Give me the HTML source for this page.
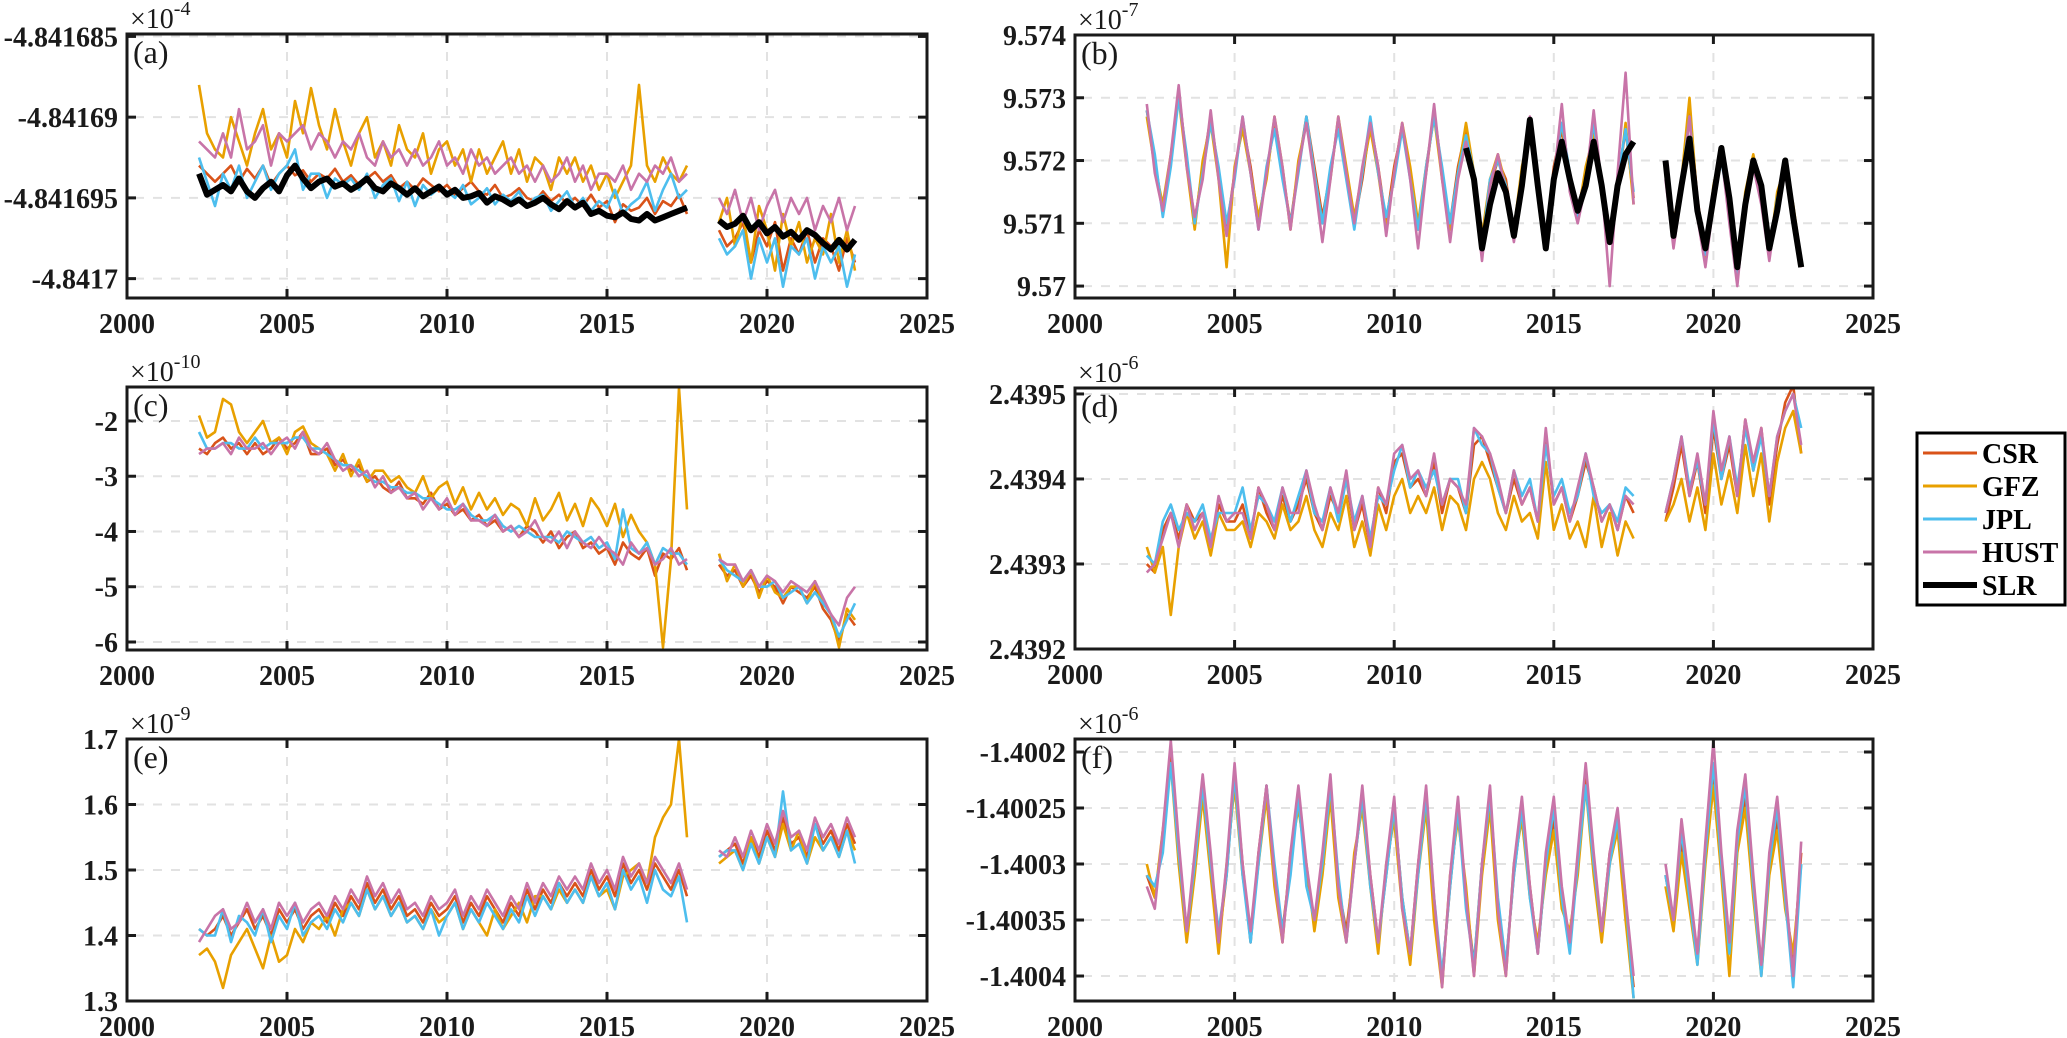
<!DOCTYPE html>
<html><head><meta charset="utf-8">
<style>
html,body{margin:0;padding:0;background:#fff;}
svg{display:block;}
text{font-family:"Liberation Serif",serif;}
</style></head>
<body>
<svg id="fig" width="2067" height="1038" viewBox="0 0 2067 1038" xmlns="http://www.w3.org/2000/svg">
<g id="legend">
<rect x="1917" y="433" width="148" height="172" fill="#fff" stroke="#000" stroke-width="3"/>
<g><line x1="1923" y1="453" x2="1977" y2="453" stroke="#D95319" stroke-width="3"/><text x="1982" y="463" font-size="28" font-weight="bold">CSR</text></g>
<g><line x1="1923" y1="486" x2="1977" y2="486" stroke="#E8A000" stroke-width="3"/><text x="1982" y="496" font-size="28" font-weight="bold">GFZ</text></g>
<g><line x1="1923" y1="519" x2="1977" y2="519" stroke="#4DBEEE" stroke-width="3"/><text x="1982" y="529" font-size="28" font-weight="bold">JPL</text></g>
<g><line x1="1923" y1="552" x2="1977" y2="552" stroke="#C874A8" stroke-width="3"/><text x="1982" y="562" font-size="28" font-weight="bold">HUST</text></g>
<g><line x1="1923" y1="585" x2="1977" y2="585" stroke="#000" stroke-width="6"/><text x="1982" y="595" font-size="28" font-weight="bold">SLR</text></g>
</g>
</svg>
<script>
const TIME=[2002.25,2002.5,2002.75,
2003,2003.25,2003.5,2003.75,2004,2004.25,2004.5,2004.75,2005,2005.25,2005.5,2005.75,
2006,2006.25,2006.5,2006.75,2007,2007.25,2007.5,2007.75,2008,2008.25,2008.5,2008.75,
2009,2009.25,2009.5,2009.75,2010,2010.25,2010.5,2010.75,2011,2011.25,2011.5,2011.75,
2012,2012.25,2012.5,2012.75,2013,2013.25,2013.5,2013.75,2014,2014.25,2014.5,2014.75,
2015,2015.25,2015.5,2015.75,2016,2016.25,2016.5,2016.75,2017,2017.25,2017.5,
null,
2018.5,2018.75,2019,2019.25,2019.5,2019.75,2020,2020.25,2020.5,2020.75,
2021,2021.25,2021.5,2021.75,2022,2022.25,2022.5,2022.75];
const X_TICKS=[2000,2005,2010,2015,2020,2025];

// Panel (a): values in units of 1e-10 relative to -4.84169e-4
const A_YTICKS=[5,0,-5,-10];
const A_YLABELS=['-4.841685','-4.84169','-4.841695','-4.8417'];
const A_CSR=[-3,-3.5,-4,-3.5,-3,-4,-3.2,-3.8,-3,-4.2,-3.5,-3,-3.6,-3.3,-4,-3.5,-3.8,-3.2,-4,-3.6,-4.2,-3.8,-3.4,-4,-3.6,-4.4,-4,-4.5,-3.8,-4.2,-4.6,-4.2,-4.8,-4.4,-4,-4.6,-4.8,-4.2,-5,-4.8,-4.4,-5,-5.2,-4.6,-5.2,-4.8,-5.4,-5,-5.5,-4.8,-5.6,-5.2,-6.5,-5.4,-5.8,-5.6,-5,-6,-5.2,-5.5,-4.8,-6,
null,-7,-8,-7.5,-6.5,-9,-7,-8,-6.5,-9.5,-7.5,-8.5,-7,-9,-7.5,-8,-9.5,-7.5,-9];
const A_GFZ=[2,-1,-2,-2.5,0,-1.5,-3,-1,0.5,-2,-1,-2.5,1,-1,1.8,-0.5,-2,0.5,-1.5,-3,-1,0,-2.5,-1.5,-3,-0.5,-2,-2.5,-1,-3.5,-2,-1.5,-3,-2,-4,-2,-3.5,-2.5,-1.5,-3.5,-2,-4,-2.5,-3,-4.5,-2.5,-3.5,-2.5,-4,-3,-4.5,-3.5,-5,-4,-3,2,-3,-4,-2.5,-3.5,-4,-3,
null,-6.5,-5,-8,-6,-9,-5.5,-7,-9.5,-6,-8,-6.5,-9,-7.5,-8.5,-6,-9,-7,-9.5];
const A_JPL=[-2.5,-4,-5.5,-3.5,-4.5,-3,-5,-4,-3,-4.5,-3.5,-3,-2,-4.5,-3.5,-3.5,-5,-3.8,-4.2,-3.8,-4.5,-3.5,-5,-4.2,-3.8,-5.2,-4,-5.5,-4.2,-4.8,-4.4,-4.6,-5,-4.2,-5.4,-5,-4.4,-5.4,-4.8,-5.2,-4.6,-5.6,-5,-4.8,-5.8,-5.2,-4.6,-5.6,-5,-5.8,-5.2,-5.6,-4.5,-6,-5.4,-5,-4,-5.8,-4.5,-3.5,-5,-4.5,
null,-7.5,-8.5,-8,-7,-10,-7.5,-9,-7.5,-10.5,-8,-8.5,-7.5,-10,-8,-9,-8,-10.5,-8.5];
const A_HUST=[-1.5,-2,-2.5,-1,-2.5,0.5,-2,-1.5,-0.5,-3,-1,-1.5,-1,-0.5,-2,-1,-1.5,-2.5,-1.5,-2,-1,-2.5,-3,-1.5,-2.5,-2,-3,-2,-3,-2.5,-1.5,-3,-2.5,-3.5,-2,-3,-2.5,-3.5,-3,-2.5,-3.5,-3,-4,-3,-4,-3.5,-2.5,-4,-3,-4.5,-3.5,-3.5,-4,-3,-4.5,-3.5,-4,-3,-3.5,-2.5,-4,-3.5,
null,-5,-6,-4.5,-6.5,-5,-7,-5.5,-4.5,-6.5,-5,-6,-5,-7,-5.5,-6.5,-5,-7,-5.5];
const A_SLR=[-3.5,-4.8,-4.5,-4.2,-4.6,-3.8,-4.6,-5,-4.4,-4,-4.6,-3.6,-3,-3.8,-4.4,-4,-3.8,-4.3,-4.1,-4.5,-4.2,-3.8,-4.4,-4.6,-4.1,-4.4,-4.8,-4.4,-4.9,-4.6,-4.3,-4.8,-4.5,-5,-4.9,-4.7,-5.3,-4.9,-5.1,-5.4,-5.1,-5.5,-5.3,-5,-5.4,-5.7,-5.2,-5.6,-5.3,-6,-5.8,-6.1,-6.2,-5.9,-6.3,-6.4,-6,-6.4,-6.2,-6,-5.8,-5.6,
null,-6.4,-6.8,-6.6,-6.1,-7,-6.5,-7.2,-6.8,-7.4,-7.1,-7.6,-7,-7.3,-7.8,-8.2,-7.6,-8.2,-7.6];

// Panel (b): units of 1e-10 relative to 9.57e-7
const B_YTICKS=[4,3,2,1,0];
const B_YLABELS=['9.574','9.573','9.572','9.571','9.57'];
const B_CSR=[2.8,2.0,1.2,2.0,3.1,2.0,1.0,1.9,2.7,1.8,0.9,1.8,2.6,1.9,1.0,1.8,2.6,1.8,1.0,1.9,2.7,1.9,1.1,1.8,2.6,1.8,1.0,1.7,2.6,1.9,1.0,1.9,2.5,1.8,0.9,1.8,2.8,1.8,1.0,1.9,2.5,1.7,0.7,1.6,2.0,1.7,0.8,1.8,2.6,1.6,0.7,1.9,2.5,1.7,1.2,1.8,2.5,1.6,0.8,1.6,2.5,1.4,
null,1.9,0.9,1.6,2.8,1.4,0.5,1.5,2.1,1.2,0.2,1.4,2.0,1.5,0.6,1.4,1.9,1.2,0.3];
const B_GFZ=[2.7,1.9,1.3,2.1,3.0,1.9,0.9,2.0,2.6,1.7,0.3,1.9,2.5,1.8,1.1,1.7,2.7,1.9,0.9,2.0,2.6,1.8,1.0,1.7,2.7,1.9,1.1,1.8,2.5,1.8,0.9,1.8,2.6,1.9,1.0,1.9,2.7,1.7,0.9,1.8,2.6,1.8,0.8,1.7,2.1,1.6,0.9,1.9,2.5,1.7,0.8,1.8,2.6,1.6,1.1,1.9,2.4,1.7,0.9,1.5,2.6,1.3,
null,1.8,1.0,1.7,3.0,1.3,0.4,1.6,2.2,1.1,0.3,1.5,2.1,1.4,0.5,1.5,1.9,1.3,0.4];
const B_JPL=[2.8,2.1,1.1,1.9,3.0,2.1,1.0,1.8,2.6,1.9,1.0,1.7,2.7,1.8,0.9,1.9,2.5,1.7,1.0,1.8,2.7,1.8,1.0,1.9,2.5,1.7,0.9,1.8,2.7,1.8,1.1,1.7,2.5,1.7,0.9,1.9,2.7,1.9,1.0,1.8,2.4,1.8,0.6,1.7,2.0,1.6,0.8,1.8,2.6,1.7,0.7,1.8,2.6,1.8,1.1,1.7,2.6,1.6,0.7,1.7,2.5,1.5,
null,2.0,0.8,1.6,2.7,1.3,0.5,1.4,2.0,1.2,0.1,1.3,2.0,1.4,0.5,1.4,1.8,1.1,0.4];
const B_HUST=[2.9,1.8,1.2,2.1,3.2,1.9,1.1,1.7,2.8,1.7,0.8,1.8,2.7,1.8,0.9,1.8,2.7,1.9,0.9,1.9,2.6,1.7,0.7,1.7,2.7,1.8,1.0,1.9,2.6,1.9,0.8,1.8,2.6,1.7,0.6,1.8,2.9,1.7,0.7,1.7,2.3,1.6,0.4,1.6,2.1,1.5,0.7,1.7,2.7,1.5,0.6,1.7,2.9,1.5,1.0,1.6,2.8,1.6,0.0,1.8,3.4,1.3,
null,1.7,0.6,1.5,2.7,1.1,0.3,1.3,2.1,1.0,0.0,1.3,1.9,1.3,0.4,1.3,1.8,1.0,0.3];
const B_SLR=[null,null,null,null,null,null,null,null,null,null,null,null,null,null,null,null,null,null,null,null,null,null,null,null,null,null,null,null,null,null,null,null,null,null,null,null,null,null,null,null,
2.2,1.7,0.6,1.3,1.8,1.5,0.8,1.6,2.65,1.6,0.6,1.7,2.3,1.7,1.2,1.6,2.3,1.6,0.7,1.6,2.1,2.3,
null,2.0,0.8,1.6,2.35,1.2,0.6,1.4,2.2,1.4,0.3,1.3,2.0,1.6,0.6,1.2,2.0,1.1,0.3];

// Panel (c): units of 1e-10
const C_YTICKS=[-2,-3,-4,-5,-6];
const C_YLABELS=['-2','-3','-4','-5','-6'];
const C_CSR=[-2.5,-2.6,-2.4,-2.3,-2.5,-2.4,-2.6,-2.4,-2.6,-2.5,-2.3,-2.5,-2.4,-2.2,-2.6,-2.6,-2.5,-2.8,-2.7,-2.9,-2.8,-3.1,-3.0,-3.2,-3.3,-3.1,-3.4,-3.4,-3.5,-3.3,-3.6,-3.5,-3.7,-3.6,-3.8,-3.7,-3.9,-3.8,-4.0,-3.9,-4.1,-3.9,-4.0,-4.2,-4.0,-4.3,-4.1,-4.0,-4.3,-4.2,-4.4,-4.3,-4.6,-4.2,-4.4,-4.5,-4.3,-4.8,-4.4,-4.5,-4.3,-4.7,
null,-4.6,-4.8,-4.7,-5.0,-4.8,-5.1,-4.9,-5.0,-5.3,-5.0,-5.1,-5.2,-5.0,-5.4,-5.6,-6.0,-5.5,-5.7];
const C_GFZ=[-1.9,-2.3,-2.2,-1.6,-1.7,-2.2,-2.4,-2.2,-2.0,-2.4,-2.3,-2.6,-2.2,-2.1,-2.4,-2.5,-2.6,-2.9,-2.6,-3.0,-2.7,-3.1,-2.9,-2.9,-3.1,-3.0,-3.2,-3.3,-3.0,-3.4,-3.2,-3.1,-3.5,-3.2,-3.6,-3.3,-3.6,-3.4,-3.7,-3.5,-3.6,-3.9,-3.4,-3.8,-3.6,-3.3,-3.8,-3.5,-3.9,-3.4,-3.6,-3.9,-3.5,-4.1,-3.7,-4.0,-4.2,-4.6,-6.1,-4.5,-1.4,-3.6,
null,-4.4,-4.9,-4.6,-5.0,-4.7,-5.2,-4.8,-5.1,-5.2,-5.0,-5.0,-5.3,-4.9,-5.3,-5.5,-6.1,-5.4,-5.6];
const C_JPL=[-2.2,-2.5,-2.5,-2.4,-2.4,-2.5,-2.5,-2.3,-2.5,-2.4,-2.4,-2.4,-2.3,-2.3,-2.5,-2.5,-2.6,-2.7,-2.8,-2.8,-2.9,-3.0,-3.1,-3.1,-3.2,-3.2,-3.3,-3.3,-3.4,-3.4,-3.5,-3.6,-3.6,-3.5,-3.7,-3.8,-3.8,-3.7,-3.9,-4.0,-3.9,-4.0,-4.1,-4.1,-4.1,-4.2,-4.0,-4.1,-4.2,-4.1,-4.3,-4.2,-4.5,-3.6,-4.3,-4.4,-4.2,-4.6,-4.3,-4.4,-4.4,-4.6,
null,-4.5,-4.7,-4.8,-4.9,-4.7,-5.0,-5.0,-4.9,-5.2,-5.1,-5.0,-5.3,-5.1,-5.3,-5.5,-5.9,-5.6,-5.3];
const C_HUST=[-2.6,-2.5,-2.5,-2.4,-2.6,-2.3,-2.5,-2.5,-2.4,-2.6,-2.4,-2.3,-2.5,-2.2,-2.5,-2.6,-2.4,-2.7,-2.9,-2.8,-3.0,-2.9,-3.2,-3.0,-3.3,-3.2,-3.4,-3.3,-3.6,-3.4,-3.6,-3.4,-3.7,-3.5,-3.8,-3.8,-3.9,-3.7,-4.0,-3.9,-4.1,-4.0,-3.8,-4.1,-4.2,-4.0,-4.3,-4.0,-4.2,-4.3,-4.1,-4.3,-4.4,-4.6,-4.2,-4.4,-4.3,-4.6,-4.5,-4.3,-4.6,-4.5,
null,-4.5,-4.6,-4.6,-4.9,-4.7,-5.0,-4.8,-4.9,-5.1,-4.9,-5.0,-5.1,-4.9,-5.2,-5.5,-5.7,-5.2,-5.0];

// Panel (d): units of 1e-10 relative to 2.439e-6
const D_YTICKS=[5,4,3,2];
const D_YLABELS=['2.4395','2.4394','2.4393','2.4392'];
const D_CSR=[3.0,2.9,3.4,3.6,3.3,3.7,3.5,3.6,3.2,3.7,3.5,3.5,3.7,3.3,3.9,3.6,3.4,3.8,3.5,3.7,4.0,3.6,3.4,3.8,3.6,4.0,3.4,3.7,3.2,3.9,3.6,4.2,4.3,3.9,4.0,3.8,4.2,3.6,4.0,3.9,3.6,4.4,4.5,4.2,3.9,3.6,4.0,3.7,3.9,3.5,4.5,3.7,3.9,3.5,3.8,4.2,3.9,3.5,3.7,3.4,3.8,3.6,
null,3.5,3.9,4.4,3.8,4.2,3.6,4.6,4.0,4.4,3.8,4.7,4.1,4.6,3.7,4.4,4.9,5.1,4.3];
const D_GFZ=[3.2,2.9,3.2,2.4,3.2,3.6,3.3,3.5,3.1,3.6,3.4,3.4,3.5,3.2,3.6,3.5,3.3,3.7,3.4,3.5,3.8,3.4,3.2,3.6,3.4,3.8,3.2,3.5,3.1,3.7,3.4,3.8,4.0,3.6,3.8,3.6,3.9,3.4,3.8,3.7,3.4,4.0,4.2,4.0,3.6,3.4,3.8,3.5,3.6,3.3,4.2,3.4,3.7,3.3,3.5,3.2,3.8,3.2,3.6,3.1,3.5,3.3,
null,3.5,3.7,4.0,3.5,3.9,3.4,4.3,3.7,4.1,3.6,4.4,3.8,4.3,3.5,4.2,4.6,4.8,4.3];
const D_JPL=[3.1,3.0,3.5,3.7,3.4,3.6,3.5,3.7,3.3,3.6,3.6,3.6,3.9,3.4,3.8,3.7,3.5,3.9,3.5,3.8,4.1,3.6,3.5,3.9,3.5,4.0,3.5,3.8,3.3,3.8,3.7,4.1,4.4,3.9,4.1,3.9,4.1,3.7,4.0,4.0,3.6,4.6,4.4,4.3,3.9,3.6,4.1,3.8,4.0,3.5,4.4,3.8,4.0,3.6,3.8,4.3,3.8,3.6,3.7,3.5,3.9,3.8,
null,3.6,4.0,4.5,3.9,4.2,3.7,4.7,4.0,4.5,3.9,4.6,4.1,4.5,3.8,4.5,4.8,5.0,4.6];
const D_HUST=[2.9,3.0,3.3,3.6,3.2,3.7,3.4,3.6,3.2,3.8,3.5,3.6,3.6,3.3,3.9,3.7,3.4,3.9,3.6,3.6,4.1,3.7,3.4,3.9,3.6,4.1,3.4,3.8,3.2,3.9,3.7,4.3,4.4,4.0,4.1,3.8,4.3,3.7,4.0,3.9,3.7,4.6,4.5,4.3,4.0,3.6,4.1,3.7,3.9,3.5,4.6,3.7,3.9,3.5,3.9,4.3,3.9,3.5,3.7,3.4,3.8,3.7,
null,3.6,4.0,4.5,3.8,4.3,3.7,4.8,4.1,4.5,3.8,4.7,4.2,4.6,3.8,4.5,4.8,5.0,4.4];

// Panel (e): units of 1e-9
const E_YTICKS=[1.7,1.6,1.5,1.4,1.3];
const E_YLABELS=['1.7','1.6','1.5','1.4','1.3'];
const E_CSR=[1.41,1.40,1.41,1.43,1.40,1.42,1.44,1.41,1.43,1.40,1.44,1.42,1.44,1.41,1.43,1.44,1.42,1.45,1.43,1.46,1.44,1.48,1.45,1.47,1.44,1.46,1.43,1.44,1.42,1.45,1.43,1.44,1.46,1.42,1.45,1.43,1.46,1.44,1.42,1.45,1.43,1.47,1.44,1.47,1.45,1.48,1.46,1.48,1.46,1.50,1.47,1.49,1.46,1.51,1.48,1.50,1.47,1.51,1.49,1.47,1.50,1.46,
null,1.52,1.53,1.54,1.51,1.55,1.52,1.56,1.53,1.58,1.54,1.55,1.52,1.57,1.54,1.56,1.53,1.57,1.54];
const E_GFZ=[1.37,1.38,1.36,1.32,1.37,1.39,1.41,1.38,1.35,1.40,1.36,1.37,1.41,1.39,1.42,1.41,1.43,1.40,1.44,1.45,1.43,1.47,1.44,1.46,1.43,1.45,1.42,1.43,1.41,1.44,1.42,1.43,1.45,1.41,1.44,1.42,1.40,1.44,1.41,1.43,1.45,1.42,1.46,1.46,1.44,1.47,1.45,1.47,1.45,1.49,1.46,1.47,1.44,1.49,1.50,1.51,1.48,1.55,1.58,1.60,1.70,1.55,
null,1.51,1.52,1.53,1.50,1.55,1.51,1.55,1.52,1.57,1.53,1.56,1.51,1.55,1.53,1.55,1.52,1.56,1.53];
const E_JPL=[1.41,1.40,1.40,1.44,1.39,1.43,1.42,1.40,1.44,1.39,1.43,1.41,1.45,1.40,1.42,1.43,1.41,1.44,1.42,1.45,1.43,1.47,1.44,1.46,1.43,1.45,1.42,1.43,1.41,1.44,1.40,1.43,1.45,1.41,1.44,1.42,1.45,1.43,1.41,1.44,1.42,1.46,1.43,1.46,1.44,1.48,1.45,1.47,1.45,1.49,1.46,1.48,1.44,1.50,1.47,1.49,1.45,1.50,1.47,1.46,1.49,1.42,
null,1.52,1.53,1.53,1.50,1.54,1.51,1.55,1.52,1.62,1.53,1.54,1.51,1.57,1.53,1.55,1.52,1.56,1.51];
const E_HUST=[1.39,1.41,1.43,1.44,1.41,1.42,1.45,1.42,1.44,1.41,1.45,1.43,1.45,1.42,1.44,1.45,1.43,1.46,1.44,1.47,1.45,1.49,1.46,1.48,1.45,1.47,1.44,1.45,1.43,1.46,1.44,1.45,1.47,1.43,1.46,1.44,1.47,1.45,1.43,1.46,1.44,1.48,1.45,1.48,1.46,1.49,1.47,1.49,1.47,1.51,1.48,1.50,1.47,1.52,1.49,1.51,1.48,1.52,1.50,1.48,1.51,1.47,
null,1.53,1.52,1.55,1.52,1.56,1.53,1.57,1.54,1.59,1.55,1.56,1.53,1.58,1.55,1.57,1.54,1.58,1.55];

// Panel (f): units of 1e-11 relative to -1.4e-6
const F_YTICKS=[-20,-25,-30,-35,-40];
const F_YLABELS=['-1.4002','-1.40025','-1.4003','-1.40035','-1.4004'];
const F_CSR=[-31,-33,-28,-20,-29,-36,-30,-23,-30,-37,-31,-22,-30,-37,-29,-23,-31,-36,-30,-24,-31,-35,-30,-23,-32,-36,-30,-24,-31,-37,-31,-25,-33,-38,-30,-24,-34,-40,-32,-25,-33,-39,-30,-24,-34,-39,-31,-25,-32,-38,-30,-26,-33,-37,-30,-22,-30,-36,-29,-26,-34,-41,
null,-31,-35,-28,-33,-38,-29,-22,-30,-37,-28,-24,-32,-39,-30,-26,-33,-39,-29];
const F_GFZ=[-30,-33,-27,-21,-30,-37,-31,-24,-31,-38,-30,-23,-31,-36,-30,-24,-32,-37,-29,-25,-30,-36,-31,-24,-33,-37,-29,-25,-32,-38,-30,-26,-34,-39,-31,-25,-35,-41,-31,-26,-32,-40,-31,-25,-35,-40,-30,-26,-33,-37,-31,-27,-34,-36,-31,-23,-31,-37,-30,-27,-35,-42,
null,-32,-36,-29,-34,-39,-30,-23,-31,-40,-29,-25,-33,-40,-31,-27,-34,-38,-30];
const F_JPL=[-31,-32,-29,-21,-29,-36,-30,-23,-30,-36,-31,-22,-31,-37,-30,-23,-30,-36,-31,-24,-32,-35,-30,-23,-31,-37,-30,-24,-32,-37,-31,-25,-33,-38,-31,-24,-33,-40,-32,-25,-34,-39,-30,-24,-33,-39,-31,-25,-33,-38,-30,-25,-33,-38,-30,-23,-30,-36,-30,-26,-33,-42,
null,-31,-35,-27,-33,-39,-29,-21,-30,-38,-28,-23,-32,-40,-30,-25,-33,-41,-30];
const F_HUST=[-32,-34,-27,-19,-28,-36,-29,-22,-29,-37,-30,-21,-30,-36,-29,-23,-31,-37,-29,-23,-30,-35,-29,-22,-32,-37,-30,-23,-31,-37,-30,-24,-34,-38,-30,-23,-33,-41,-31,-24,-33,-40,-30,-23,-34,-40,-30,-24,-32,-38,-29,-24,-32,-37,-29,-21,-29,-36,-29,-25,-33,-40,
null,-30,-35,-26,-32,-38,-28,-19,-29,-37,-27,-22,-31,-39,-29,-24,-32,-40,-28];

const COLORS={CSR:'#D95319',GFZ:'#E8A000',JPL:'#4DBEEE',HUST:'#C874A8',SLR:'#000'};
const NS='http://www.w3.org/2000/svg';
const svg=document.getElementById('fig');
function mk(tag,attrs,parent){const e=document.createElementNS(NS,tag);for(const k in attrs)e.setAttribute(k,attrs[k]);(parent||svg).appendChild(e);return e;}

function drawPanel(p){
  const g=mk('g',{});
  
  
  const xs=v=>p.x0+(v-2000)/25*(p.x1-p.x0);
  const ys=v=>p.y1-(v-p.ymin)/(p.ymax-p.ymin)*(p.y1-p.y0);
  const cid='clip-'+p.id;
  const cp=mk('clipPath',{id:cid},g);mk('rect',{x:p.x0,y:p.y0,width:p.x1-p.x0,height:p.y1-p.y0},cp);
  // grid
  const grid=mk('g',{stroke:'#e2e2e2','stroke-width':2,'stroke-dasharray':'9,9'},g);
  
  
  X_TICKS.forEach(t=>{if(t>2000&&t<2025)mk('line',{x1:xs(t),x2:xs(t),y1:p.y0,y2:p.y1},grid);});
  p.yt.forEach(t=>{mk('line',{x1:p.x0+8,x2:p.x1-8,y1:ys(t),y2:ys(t)},grid);});
  // series
  const sg=mk('g',{'clip-path':'url(#'+cid+')',fill:'none','stroke-linejoin':'round'},g);
  p.series.forEach(s=>{
    let d='',pen=false;
    for(let i=0;i<TIME.length&&i<s.v.length;i++){
      const t=TIME[i],v=s.v[i];
      if(t===null||v===null){pen=false;continue;}
      d+=(pen?'L':'M')+xs(t).toFixed(1)+','+ys(v).toFixed(1);pen=true;
    }
    const path=mk('path',{d:d,stroke:COLORS[s.n],'stroke-width':s.n==='SLR'?6:2.6},sg);
    
    
  });
  // box
  const box=mk('rect',{x:p.x0,y:p.y0,width:p.x1-p.x0,height:p.y1-p.y0,fill:'none',stroke:'#1a1a1a','stroke-width':3},g);
  
  
  // ticks
  const tk=mk('g',{stroke:'#1a1a1a','stroke-width':3},g);
  X_TICKS.forEach(t=>{mk('line',{x1:xs(t),x2:xs(t),y1:p.y1,y2:p.y1-9},tk);mk('line',{x1:xs(t),x2:xs(t),y1:p.y0,y2:p.y0+9},tk);});
  p.yt.forEach(t=>{mk('line',{x1:p.x0,x2:p.x0+9,y1:ys(t),y2:ys(t)},tk);mk('line',{x1:p.x1,x2:p.x1-9,y1:ys(t),y2:ys(t)},tk);});
  // labels
  X_TICKS.forEach(t=>{const e=mk('text',{x:xs(t),y:p.y1+35,'text-anchor':'middle','font-size':28,'font-weight':'bold',fill:'#1a1a1a'},g);e.textContent=String(t);
    
    });
  p.yt.forEach((t,i)=>{const e=mk('text',{x:p.x0-9,y:ys(t)+10,'text-anchor':'end','font-size':28,'font-weight':'bold',fill:'#1a1a1a'},g);e.textContent=p.yl[i];
    
    });
  const ex=mk('text',{x:p.x0+3,y:p.y0-6,'font-size':28,fill:'#1a1a1a'},g);
  
  
  ex.textContent='\u00d710';
  const sup=mk('tspan',{dy:-13,'font-size':20},ex);sup.textContent=p.exp;
  const lt=mk('text',{x:p.x0+6,y:p.y0+29,'font-size':32,fill:'#1a1a1a'},g);
  
  
  lt.textContent='('+p.id+')';
}

const L={x0:127,x1:927},R={x0:1075,x1:1873};
drawPanel({id:'a',x0:L.x0,x1:L.x1,y0:34,y1:298,ymin:-11.2,ymax:5.15,yt:A_YTICKS,yl:A_YLABELS,exp:'-4',
  series:[{n:'CSR',v:A_CSR},{n:'GFZ',v:A_GFZ},{n:'JPL',v:A_JPL},{n:'HUST',v:A_HUST},{n:'SLR',v:A_SLR}]});
drawPanel({id:'b',x0:R.x0,x1:R.x1,y0:35,y1:298,ymin:-0.19,ymax:4,yt:B_YTICKS,yl:B_YLABELS,exp:'-7',
  series:[{n:'CSR',v:B_CSR},{n:'GFZ',v:B_GFZ},{n:'JPL',v:B_JPL},{n:'HUST',v:B_HUST},{n:'SLR',v:B_SLR}]});
drawPanel({id:'c',x0:L.x0,x1:L.x1,y0:387,y1:650,ymin:-6.145,ymax:-1.385,yt:C_YTICKS,yl:C_YLABELS,exp:'-10',
  series:[{n:'CSR',v:C_CSR},{n:'GFZ',v:C_GFZ},{n:'JPL',v:C_JPL},{n:'HUST',v:C_HUST}]});
drawPanel({id:'d',x0:R.x0,x1:R.x1,y0:388,y1:649,ymin:2,ymax:5.07,yt:D_YTICKS,yl:D_YLABELS,exp:'-6',
  series:[{n:'CSR',v:D_CSR},{n:'GFZ',v:D_GFZ},{n:'JPL',v:D_JPL},{n:'HUST',v:D_HUST}]});
drawPanel({id:'e',x0:L.x0,x1:L.x1,y0:739,y1:1001,ymin:1.3,ymax:1.7,yt:E_YTICKS,yl:E_YLABELS,exp:'-9',
  series:[{n:'CSR',v:E_CSR},{n:'GFZ',v:E_GFZ},{n:'JPL',v:E_JPL},{n:'HUST',v:E_HUST}]});
drawPanel({id:'f',x0:R.x0,x1:R.x1,y0:739,y1:1001,ymin:-42.23,ymax:-18.84,yt:F_YTICKS,yl:F_YLABELS,exp:'-6',
  series:[{n:'CSR',v:F_CSR},{n:'GFZ',v:F_GFZ},{n:'JPL',v:F_JPL},{n:'HUST',v:F_HUST}]});
svg.appendChild(document.getElementById('legend'));
</script>
</body></html>
